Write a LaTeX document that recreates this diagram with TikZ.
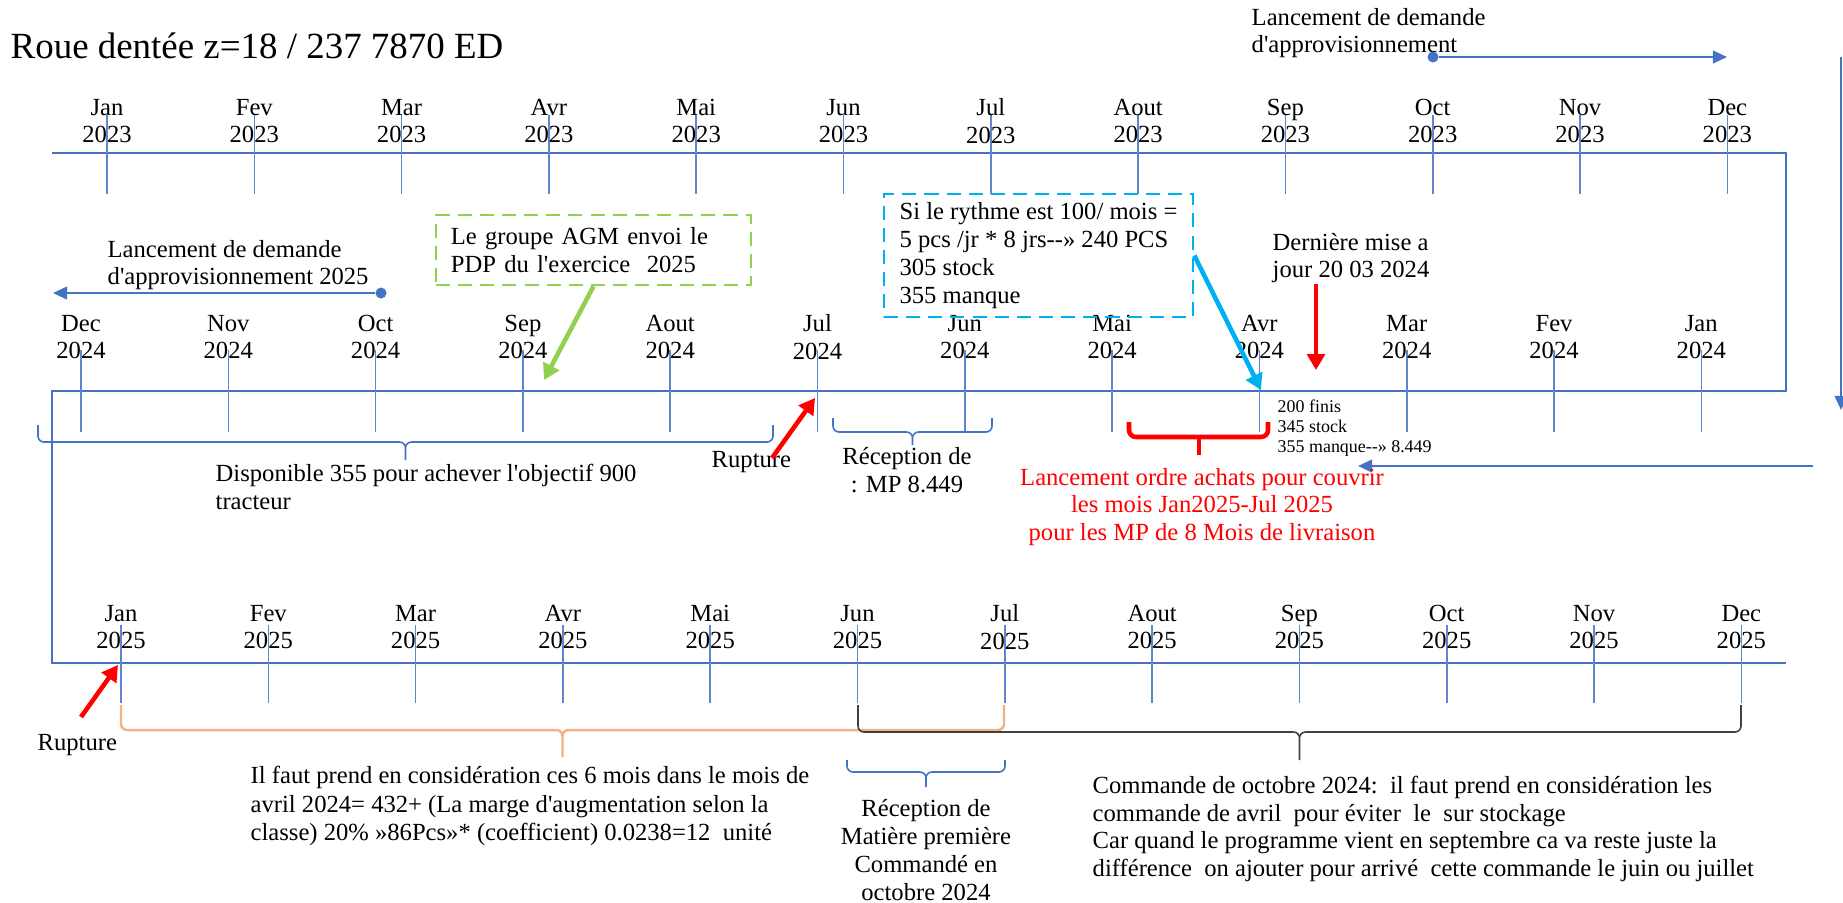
\documentclass[tikz,border=0pt]{standalone}
\usepackage{fontspec}
\setmainfont{Liberation Serif}
\newfontfamily\docfont{Liberation Serif}
\usetikzlibrary{arrows.meta}

\definecolor{tlblue}{HTML}{4472C4}
\definecolor{boxgreen}{HTML}{92D050}
\definecolor{boxcyan}{HTML}{00B0F0}
\definecolor{alertred}{HTML}{FF0000}
\definecolor{braceorange}{HTML}{F4B183}
\definecolor{bracedark}{HTML}{404040}

\begin{document}
\begin{tikzpicture}[x=0.01cm,y=-0.01cm,
    tline/.style={draw=tlblue, line width=0.6pt},
    mtick/.style={draw=tlblue!85, line width=0.45pt},
    month/.style={align=center, inner sep=0pt, font=\docfont\fontsize{7}{7.9}\selectfont},
    note/.style={align=left, anchor=west, inner sep=0pt, font=\docfont\fontsize{7}{7.9}\selectfont},
    cnote/.style={align=center, inner sep=0pt, font=\docfont\fontsize{7}{7.9}\selectfont},
    dashbox/.style={draw=#1, dash pattern=on 4pt off 2.3pt, line width=0.7pt, align=left,
        inner xsep=0.15cm, inner ysep=0pt, font=\docfont\fontsize{7}{7.9}\selectfont},
    dot/.style={circle, fill=tlblue, inner sep=0pt, minimum size=0.11cm},
    bluearrow/.style={draw=tlblue, line width=0.6pt, -{Triangle[length=4pt,width=3.6pt]}},
    fatarrow/.style={draw=#1, line width=1.3pt, -{Triangle[length=4.5pt,width=5pt]}},
    wbrace/.style={rounded corners=0.06cm},
]
    \useasboundingbox (0,0) rectangle (1843,902);

    % Title
    \node[anchor=base west, inner sep=0pt, font=\docfont\fontsize{10.5}{12}\selectfont] (title) at (10,58)
        {Roue dentée z=18 / 237 7870 ED};

    % Timeline (one line folding back on itself)
    \draw[tline] (52,153) -- (1786,153) -- (1786,391) -- (52,391) -- (52,663) -- (1786,663);

    % 2023, left to right
    \foreach \m [count=\i from 0] in {Jan,Fev,Mar,Avr,Mai,Jun,Jul,Aout,Sep,Oct,Nov,Dec} {
        \draw[mtick] ({107+147.3*\i},115) -- ++(0,79);
        \node[month] (a\i) at ({107+147.3*\i},121) {\m\\2023};
    }

    % 2024, right to left
    \foreach \m [count=\i from 0] in {Dec,Nov,Oct,Sep,Aout,Jul,Jun,Mai,Avr,Mar,Fev,Jan} {
        \draw[mtick] ({81+147.3*\i},350) -- ++(0,82);
        \node[month] (b\i) at ({81+147.3*\i},337) {\m\\2024};
    }

    % 2025, left to right
    \foreach \m [count=\i from 0] in {Jan,Fev,Mar,Avr,Mai,Jun,Jul,Aout,Sep,Oct,Nov,Dec} {
        \draw[mtick] ({121+147.3*\i},625) -- ++(0,78);
        \node[month] (c\i) at ({121+147.3*\i},627) {\m\\2025};
    }

    % Braces under the lines
    \foreach \xa/\xb/\ya/\yb/\yc/\col/\lw in {38/773/425/442/460/tlblue/0.45pt,
            833/992/418/432/445/tlblue/0.45pt, 121/1004/705/730/757/braceorange/0.7pt,
            858/1741/705/732/760/bracedark/0.45pt, 847/1005/760/772/787/tlblue/0.45pt} {
        \draw[wbrace, draw=\col, line width=\lw]
            (\xa,\ya) -- (\xa,\yb) -- ({(\xa+\xb)/2},\yb) -- ({(\xa+\xb)/2},\yc)
            (\xb,\ya) -- (\xb,\yb) -- ({(\xa+\xb)/2},\yb) -- ({(\xa+\xb)/2},\yc);
    }

    % Supply requests
    \node[note] (reqtop) at (1251,33) {Lancement de demande\\d'approvisionnement};
    \node[dot] (dtop) at (1433,57) {};
    \coordinate (reqtopend) at (1727,57);
    \draw[bluearrow] (dtop) -- (reqtopend);

    \node[note] (reqmid) at (107,265) {Lancement de demande\\d'approvisionnement 2025};
    \node[dot] (dmid) at (381,293) {};
    \coordinate (reqmidend) at (53,293);
    \draw[bluearrow] (dmid) -- (reqmidend);

    \coordinate (rtop) at (1841,57);
    \coordinate (rbot) at (1841,410);
    \draw[bluearrow] (rtop) -- (rbot);
    \coordinate (rback) at (1813,466);
    \coordinate (rbackend) at (1358,466);
    \draw[bluearrow] (rback) -- (rbackend);

    % Dashed notes
    \node[dashbox=boxgreen, text width=2.85cm, minimum height=0.7cm] (agm) at (593.5,250)
        {Le groupe AGM envoi le\\PDP du l'exercice\ \ 2025};
    \coordinate (agmhit) at (544,380);
    \draw[fatarrow=boxgreen] (agm.south) -- (agmhit);

    \node[dashbox=boxcyan, minimum width=3.09cm, minimum height=1.23cm] (rythme) at (1038.5,255.5)
        {Si le rythme est 100/ mois =\\5 pcs /jr * 8 jrs--» 240 PCS\\305 stock\\355 manque};
    \coordinate (avrhit) at (1261,390);
    \draw[fatarrow=boxcyan] (rythme.east) -- (avrhit);

    % Last update
    \node[note] (maj) at (1272,258) {Dernière mise a\\jour 20 03 2024};
    \coordinate (majhit) at (1316,370);
    \draw[fatarrow=alertred] (maj.south -| majhit) -- (majhit);

    \node[note, font=\docfont\fontsize{5.1}{5.8}\selectfont] (etat) at (1277,428)
        {200 finis\\345 stock\\355 manque--» 8.449};

    % Purchase order
    \draw[alertred, line width=1.3pt, rounded corners=2pt] (1129,422) -- (1129,437) -- (1268,437) -- (1268,422);
    \draw[alertred, line width=1.3pt] (1199,437) -- (1199,455);
    \node[cnote, text=alertred] (achat) at (1202,507)
        {Lancement ordre achats pour couvrir\\les mois Jan2025-Jul 2025\\pour les MP de 8 Mois de livraison};

    % 2024 notes
    \node[note] (dispo) at (215,487) {Disponible 355 pour achever l'objectif 900\\tracteur};
    \node[cnote] (recmp) at (907,470) {Réception de\\: MP 8.449};

    \node[note] (rup1) at (711,462) {Rupture};
    \coordinate (rup1tail) at (772,458);
    \coordinate (julhit) at (815,398);
    \draw[fatarrow=alertred] (rup1tail) -- (julhit);

    % 2025 notes
    \node[note] (rup2) at (37,745) {Rupture};
    \coordinate (rup2tail) at (81,717);
    \coordinate (janhit) at (118,665);
    \draw[fatarrow=alertred] (rup2tail) -- (janhit);

    \node[note, font=\docfont\fontsize{7}{8.1}\selectfont] (marge) at (250,806)
        {Il faut prend en considération ces 6 mois dans le mois de\\avril 2024= 432+ (La marge d'augmentation selon la\\classe) 20\% »86Pcs»* (coefficient) 0.0238=12\ \ unité};

    \node[note] (cmd) at (1092,829)
        {Commande de octobre 2024:\ \ il faut prend en considération les\\commande de avril\ \ pour éviter\ \ le\ \ sur stockage\\Car quand le programme vient en septembre ca va reste juste la\\différence\ \ on ajouter pour arrivé\ \ cette commande le juin ou juillet};

    \node[cnote] (recmat) at (926,850) {Réception de\\Matière première\\Commandé en\\octobre 2024};
\end{tikzpicture}
\end{document}
